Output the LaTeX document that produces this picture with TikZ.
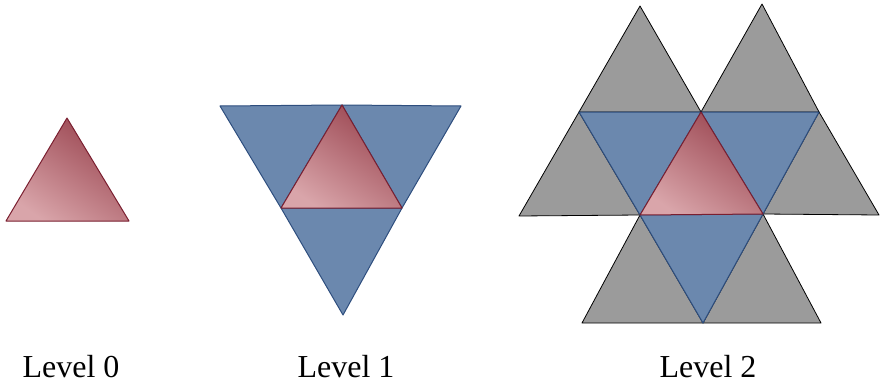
\documentclass[tikz,border=0pt]{standalone}
\usepackage{fontspec}
\setmainfont{Liberation Serif}
\usetikzlibrary{positioning}

\definecolor{redlight}{HTML}{D9A5AA}
\definecolor{reddark}{HTML}{9A4550}
\definecolor{redline}{HTML}{7A1F30}
\definecolor{bluefill}{HTML}{6B88AE}
\definecolor{blueline}{HTML}{2E4E7E}
\definecolor{greyfill}{HTML}{9B9B9B}

\begin{document}
\begin{tikzpicture}[
    x=1pt, y=-1pt,
    % Triangle styles
    redtri/.style={draw=redline, line width=1pt, line join=round,
        top color=reddark, bottom color=redlight, shading angle=-35},
    bluetri/.style={draw=blueline, fill=bluefill, line width=1pt, line join=round},
    greytri/.style={draw=black, fill=greyfill, line width=0.8pt, line join=round},
    levellabel/.style={font=\fontsize{32}{36}\selectfont, anchor=base, inner sep=0pt}
]

% Fix the page size
\useasboundingbox (0,0) rectangle (882,385);

% Level 0
\coordinate (a0) at (6,221);
\coordinate (b0) at (129,221);
\coordinate (c0) at (67,118);
\shade[redtri] (a0) -- (b0) -- (c0) -- cycle;

% Level 1
\coordinate (l1) at (220,106);
\coordinate (m1) at (342,105);
\coordinate (r1) at (461,106);
\coordinate (p1) at (281,208);
\coordinate (q1) at (402,208);
\coordinate (s1) at (343,315);
\draw[bluetri] (l1) -- (m1) -- (p1) -- cycle;
\draw[bluetri] (m1) -- (r1) -- (q1) -- cycle;
\draw[bluetri] (p1) -- (q1) -- (s1) -- cycle;
\shade[redtri] (p1) -- (q1) -- (m1) -- cycle;

% Level 2
\coordinate (l2) at (579,112);
\coordinate (m2) at (701,112);
\coordinate (r2) at (819,112);
\coordinate (p2) at (640,215);
\coordinate (q2) at (763,214);
\coordinate (s2) at (703,323);
% outer grey triangles
\draw[greytri] (l2) -- (m2) -- (640,6) -- cycle;
\draw[greytri] (m2) -- (r2) -- (762,4) -- cycle;
\draw[greytri] (519,216) -- (p2) -- (l2) -- cycle;
\draw[greytri] (q2) -- (879,215) -- (r2) -- cycle;
\draw[greytri] (582,323) -- (s2) -- (p2) -- cycle;
\draw[greytri] (s2) -- (821,323) -- (q2) -- cycle;
% blue ring
\draw[bluetri] (l2) -- (m2) -- (p2) -- cycle;
\draw[bluetri] (m2) -- (r2) -- (q2) -- cycle;
\draw[bluetri] (p2) -- (q2) -- (s2) -- cycle;
\shade[redtri] (p2) -- (q2) -- (m2) -- cycle;

% Labels
\node[levellabel] (lev0) at (71,377) {Level 0};
\node[levellabel] (lev1) at (346,377) {Level 1};
\node[levellabel] (lev2) at (708,377) {Level 2};

\end{tikzpicture}
\end{document}
